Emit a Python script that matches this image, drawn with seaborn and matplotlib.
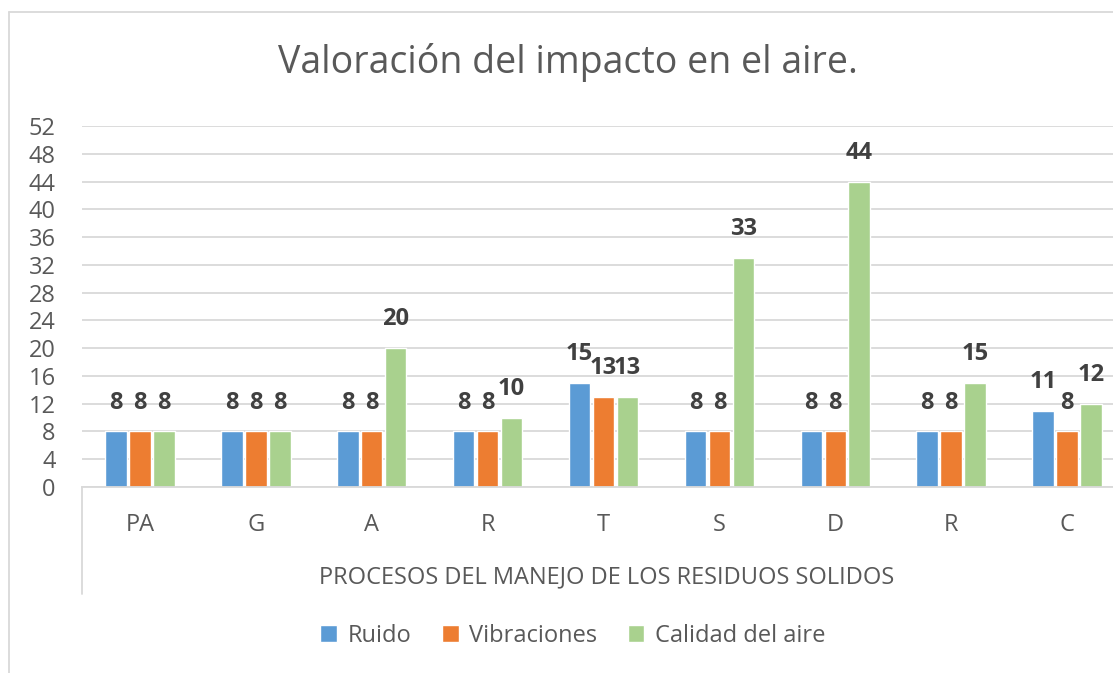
import numpy as np
import pandas as pd
import matplotlib
matplotlib.use('Agg')
import matplotlib.pyplot as plt
from matplotlib.lines import Line2D
from matplotlib.patches import Patch
import seaborn as sns

categories = ['PA', 'G', 'A', 'R', 'T', 'S', 'D', 'R', 'C']
ruido = [8, 8, 8, 8, 15, 8, 8, 8, 11]
vibraciones = [8, 8, 8, 8, 13, 8, 8, 8, 8]
calidad_aire = [8, 8, 20, 10, 13, 33, 44, 15, 12]
series_names = ['Ruido', 'Vibraciones', 'Calidad del aire']
colors = ['#5B9BD5', '#ED7D31', '#A9D18E']
yticks = list(range(0, 53, 4))

sns.set_style('white')
plt.rcParams['font.family'] = ['Open Sans', 'DejaVu Sans']

# long format; position index keeps the two "R" apart
rows = []
for name, vals in zip(series_names, [ruido, vibraciones, calidad_aire]):
    for i, v in enumerate(vals):
        rows.append({'pos': i, 'serie': name, 'valor': v})
df = pd.DataFrame(rows)

fig = plt.figure(figsize=(11.13, 6.73), dpi=100)
ax = fig.add_axes([82 / 1113, 186 / 673, 1043 / 1113, 361 / 673])

sns.barplot(data=df, x='pos', y='valor', hue='serie', hue_order=series_names,
            palette=colors, width=0.62, gap=0.1, saturation=1,
            order=list(range(len(categories))), legend=False, ax=ax)

for cont in ax.containers:
    ax.bar_label(cont, fmt='%d', fontweight='bold', fontsize=17,
                 color='#404040', padding=12)

ax.set_ylim(0, 52)
ax.set_yticks(yticks)
ax.set_xticks(range(len(categories)))
ax.set_xticklabels(categories)
ax.tick_params(axis='both', length=0, labelsize=17, labelcolor='#595959')
ax.tick_params(axis='x', pad=19)
ax.tick_params(axis='y', pad=19)
ax.grid(axis='y', color='#D9D9D9', linewidth=1.3)
ax.set_axisbelow(True)
for s in ['top', 'right', 'left']:
    ax.spines[s].set_visible(False)
ax.spines['bottom'].set_color('#D9D9D9')
ax.spines['bottom'].set_linewidth(1.3)

ax.set_ylabel('')
ax.set_xlabel('PROCESOS DEL MANEJO DE LOS RESIDUOS SOLIDOS',
              fontsize=17, color='#595959')
ax.xaxis.label.set_va('center')
ax.xaxis.set_label_coords(0.503, -0.249)

# category axis line going down past the labels
ax.add_line(Line2D([0, 0], [0, -0.296], transform=ax.transAxes,
                   color='#D9D9D9', linewidth=1.3, clip_on=False))

fig.text(568 / 1113, 1 - 62 / 673, 'Valoración del impacto en el aire.',
         fontsize=27, color='#595959', ha='center', va='center')

handles = [Patch(facecolor=c, label=n) for c, n in zip(colors, series_names)]
fig.legend(handles=handles, loc='center', ncol=3, frameon=False,
           bbox_to_anchor=(573 / 1113, 1 - 636 / 673), fontsize=17,
           labelcolor='#595959', handlelength=0.7, handleheight=0.7,
           handletextpad=0.45, columnspacing=1.3)

# chart border (left and top edges visible)
fig.add_artist(Line2D([9 / 1113, 9 / 1113], [0, 1 - 12 / 673],
                      transform=fig.transFigure, color='#D9D9D9', linewidth=1.3))
fig.add_artist(Line2D([9 / 1113, 1], [1 - 12 / 673, 1 - 12 / 673],
                      transform=fig.transFigure, color='#D9D9D9', linewidth=1.3))

fig.savefig('out.png', dpi=100)
